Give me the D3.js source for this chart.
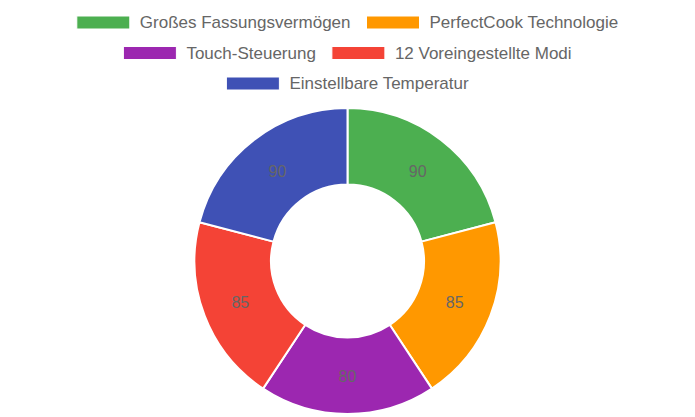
<!DOCTYPE html>
<html>
<head>
<meta charset="utf-8">
<script src="https://cdn.jsdelivr.net/npm/d3@7"></script>
<style>
  body { margin: 0; background: #fff; }
  svg { display: block; font-family: "Liberation Sans", Arial, sans-serif; }
</style>
</head>
<body>
<div id="chart"></div>
<script>
// Chart data
const labels = ["Großes Fassungsvermögen", "PerfectCook Technologie", "Touch-Steuerung", "12 Voreingestellte Modi", "Einstellbare Temperatur"];
const values = [90, 85, 80, 85, 90];
const colors = ["#4CAF50", "#FF9800", "#9C27B0", "#F44336", "#3F51B5"];

const width = 695, height = 417;
const legendFont = 17;
const boxW = 53, boxH = 13;

const svg = d3.select("#chart").append("svg")
    .attr("width", width)
    .attr("height", height);

// Legend: wrap items into centered rows
const legend = svg.append("g");
const items = labels.map((label, i) => {
    const g = legend.append("g");
    g.append("rect")
        .attr("width", boxW)
        .attr("height", boxH)
        .attr("fill", colors[i])
        .attr("stroke", "#fff")
        .attr("stroke-width", 1);
    const t = g.append("text")
        .attr("x", boxW + 10)
        .attr("y", boxH / 2)
        .attr("dy", "0.35em")
        .attr("fill", "#666")
        .attr("font-size", legendFont)
        .text(label);
    return { g, w: boxW + 10 + t.node().getComputedTextLength() };
});

const gap = 16, maxW = width - 20;
const rows = [[]];
let rowW = 0;
items.forEach(it => {
    const row = rows[rows.length - 1];
    if (row.length && rowW + gap + it.w > maxW) {
        rows.push([it]);
        rowW = it.w;
    } else {
        rowW += (row.length ? gap : 0) + it.w;
        row.push(it);
    }
});
rows.forEach((row, r) => {
    const total = d3.sum(row, d => d.w) + gap * (row.length - 1);
    let x = (width - total) / 2;
    row.forEach(it => {
        it.g.attr("transform", `translate(${x},${16 + r * 30.5})`);
        x += it.w + gap;
    });
});

// Doughnut
const cx = 347.5, cy = 261, outerR = 153, innerR = 76.5;
const pie = d3.pie().sort(null).value(d => d);
const arc = d3.arc().innerRadius(innerR).outerRadius(outerR);
const arcs = pie(values);

const chart = svg.append("g").attr("transform", `translate(${cx},${cy})`);

chart.selectAll("path")
    .data(arcs)
    .enter()
    .append("path")
    .attr("d", arc)
    .attr("fill", (d, i) => colors[i])
    .attr("stroke", "#fff")
    .attr("stroke-width", 2)
    .attr("stroke-linejoin", "bevel");

chart.selectAll("text.value")
    .data(arcs)
    .enter()
    .append("text")
    .attr("class", "value")
    .attr("transform", d => `translate(${arc.centroid(d)})`)
    .attr("text-anchor", "middle")
    .attr("dy", "0.4em")
    .attr("fill", "#666")
    .attr("font-size", 16)
    .text(d => d.data);
</script>
</body>
</html>
